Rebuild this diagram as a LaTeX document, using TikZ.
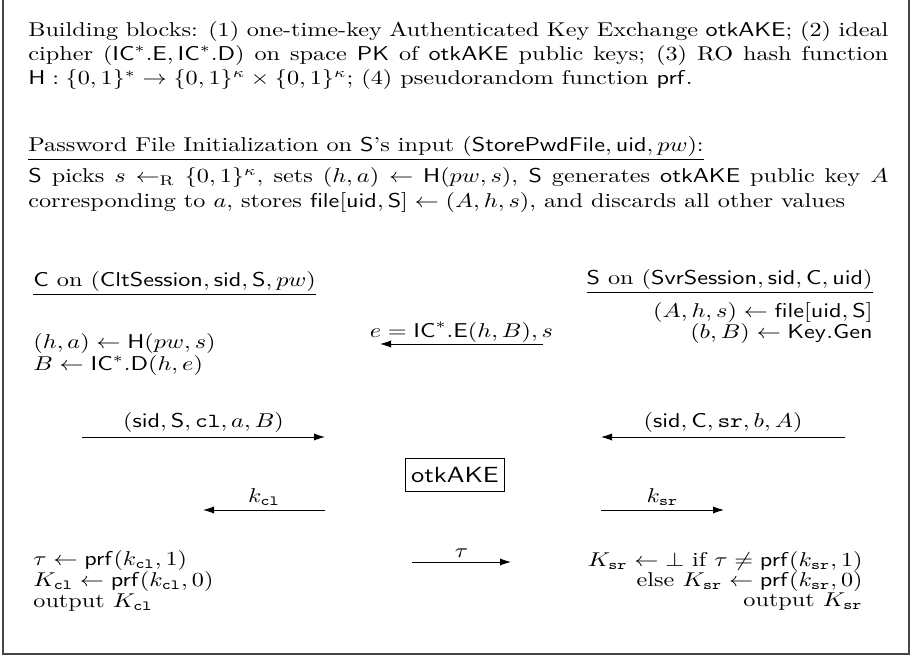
\documentclass[tikz,border=0pt]{standalone}
\usepackage{amsmath,amssymb}
\usepackage{graphicx}
\usetikzlibrary{arrows.meta}
\newcommand{\kcl}{k_{\mathtt{cl}}}
\newcommand{\ksr}{k_{\mathtt{sr}}}
\newcommand{\Kcl}{K_{\mathtt{cl}}}
\newcommand{\Ksr}{K_{\mathtt{sr}}}
\newcommand{\msf}[1]{\mathsf{#1}}
\newcommand{\xwide}[1]{\scalebox{1.21}[1]{#1}}
\newcommand{\fullline}[1]{\xwide{\makebox[355.4pt][s]{#1}}}

\begin{document}
\begin{tikzpicture}[x=0.5pt, y=-0.5pt, txt/.style={inner sep=0pt}, msg/.style={-{Latex[length=5.5pt,width=3.6pt]}, line width=0.45pt}, lbl/.style={above, inner sep=2pt}, frame/.style={draw=black!72, line width=0.7pt}, keybox/.style={draw, line width=0.45pt, inner xsep=3pt, minimum height=16.5pt, font=\fontsize{11}{13}\selectfont}]
\useasboundingbox (0,0) rectangle (916,656);
\draw[frame] (3,0) -- (3,654) -- (909,654) -- (909,0);
\node[txt, anchor=base west] (b1) at (28,37) {\fullline{Building blocks: (1) one-time-key Authenticated Key Exchange $\msf{otkAKE}$; (2) ideal}};
\node[txt, anchor=base west] (b2) at (28,61) {\fullline{cipher $(\msf{IC}^*.\msf{E},\msf{IC}^*.\msf{D})$ on space $\msf{PK}$ of $\msf{otkAKE}$ public keys; (3) RO hash function}};
\node[txt, anchor=base west] (b3) at (28,85) {\xwide{$\msf{H}:\{0,1\}^*\rightarrow\{0,1\}^\kappa\times\{0,1\}^\kappa$; (4) pseudorandom function $\msf{prf}$.}};
\node[txt, anchor=base west] (inithead) at (28,152) {\xwide{\underline{Password File Initialization on $\msf{S}$'s input $(\msf{StorePwdFile},\msf{uid},pw)$:}}};
\node[txt, anchor=base west] (i1) at (28,183) {\fullline{$\msf{S}$ picks $s\leftarrow_{\mathrm{R}}\{0,1\}^\kappa$, sets $(h,a)\leftarrow\msf{H}(pw,s)$, $\msf{S}$ generates $\msf{otkAKE}$ public key $A$}};
\node[txt, anchor=base west] (i2) at (28,208) {\xwide{corresponding to $a$, stores $\msf{file}[\msf{uid},\msf{S}]\leftarrow(A,h,s)$, and discards all other values}};
\node[txt, anchor=base west] (chead) at (33,287) {\xwide{\underline{$\msf{C}$ on $(\msf{CltSession},\msf{sid},\msf{S},pw)$}}};
\node[txt, anchor=base west] (c1) at (33,349) {\xwide{$(h,a)\leftarrow\msf{H}(pw,s)$}};
\node[txt, anchor=base west] (c2) at (33,371) {\xwide{$B\leftarrow\msf{IC}^*.\msf{D}(h,e)$}};
\node[txt, anchor=base east] (shead) at (873,285) {\xwide{\underline{$\msf{S}$ on $(\msf{SvrSession},\msf{sid},\msf{C},\msf{uid})$}}};
\node[txt, anchor=base east] (s1) at (873,318) {\xwide{$(A,h,s)\leftarrow\msf{file}[\msf{uid},\msf{S}]$}};
\node[txt, anchor=base east] (s2) at (873,339) {\xwide{$(b,B)\leftarrow\msf{Key.Gen}$}};
\coordinate (eR) at (543,344);
\coordinate (eL) at (380,344);
\draw[msg] (eR) -- node[lbl, inner sep=0.5pt] (elbl) {\xwide{$e=\msf{IC}^*.\msf{E}(h,B),s$}} (eL);
\coordinate (m1L) at (82,437);
\coordinate (m1R) at (325,437);
\draw[msg] (m1L) -- node[lbl] (m1lbl) {\xwide{$(\msf{sid},\msf{S},\mathtt{cl},a,B)$}} (m1R);
\coordinate (m2R) at (845,437);
\coordinate (m2L) at (601,437);
\draw[msg] (m2R) -- node[lbl] (m2lbl) {\xwide{$(\msf{sid},\msf{C},\mathtt{sr},b,A)$}} (m2L);
\node[keybox] (otk) at (455,475) {\xwide{$\msf{otkAKE}$}};
\coordinate (kcR) at (325,510);
\coordinate (kcL) at (203,510);
\draw[msg] (kcR) -- node[lbl] (kclbl) {\xwide{$\kcl$}} (kcL);
\coordinate (ksL) at (601,510);
\coordinate (ksR) at (724,510);
\draw[msg] (ksL) -- node[lbl] (kslbl) {\xwide{$\ksr$}} (ksR);
\coordinate (tL) at (412,562);
\coordinate (tR) at (511,562);
\draw[msg] (tL) -- node[lbl] (tlbl) {\xwide{$\tau$}} (tR);
\node[txt, anchor=base west] (c3) at (33,566) {\xwide{$\tau\leftarrow\msf{prf}(\kcl,1)$}};
\node[txt, anchor=base west] (c4) at (33,587) {\xwide{$\Kcl\leftarrow\msf{prf}(\kcl,0)$}};
\node[txt, anchor=base west] (c5) at (33,608) {\xwide{output $\Kcl$}};
\node[txt, anchor=base east] (s3) at (863,567) {\xwide{$\Ksr\leftarrow\bot$ if $\tau\neq\msf{prf}(\ksr,1)$}};
\node[txt, anchor=base east] (s4) at (863,587) {\xwide{else $\Ksr\leftarrow\msf{prf}(\ksr,0)$}};
\node[txt, anchor=base east] (s5) at (863,607) {\xwide{output $\Ksr$}};
\end{tikzpicture}
\end{document}
